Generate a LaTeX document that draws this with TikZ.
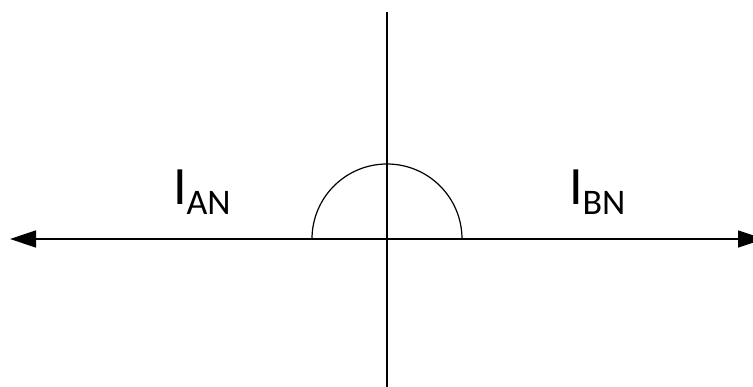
\documentclass[tikz,border=0pt]{standalone}
\usepackage{fontspec}
\setmainfont{Carlito}
\usetikzlibrary{arrows.meta}
\begin{document}
\begin{tikzpicture}[x=1pt,y=-1pt,
  axis/.style={line width=1.4pt,black},
  lbl/.style={anchor=base west,inner sep=0pt,outer sep=0pt}]
\path[use as bounding box,clip] (0,0) rectangle (753,387);
\coordinate (O) at (387,239);
\coordinate (L) at (10,239);
\coordinate (R) at (764,239);
\coordinate (T) at (387,12);
\coordinate (B) at (387,395);
\draw[axis,-{Triangle[length=26pt,width=17pt]}] (O) -- (L);
\draw[axis,-{Triangle[length=26pt,width=17pt]}] (O) -- (R);
\draw[axis] (T) -- (B);
\draw[line width=1.2pt] (312,239) arc[start angle=180,end angle=360,radius=75];
\node[lbl] (ian) at (173,205) {\fontsize{54}{56}\selectfont I\fontsize{36}{38}\selectfont\raisebox{-10pt}{AN}};
\node[lbl] (ibn) at (569,205) {\fontsize{54}{56}\selectfont I\fontsize{36}{38}\selectfont\raisebox{-10pt}{BN}};
\end{tikzpicture}
\end{document}
